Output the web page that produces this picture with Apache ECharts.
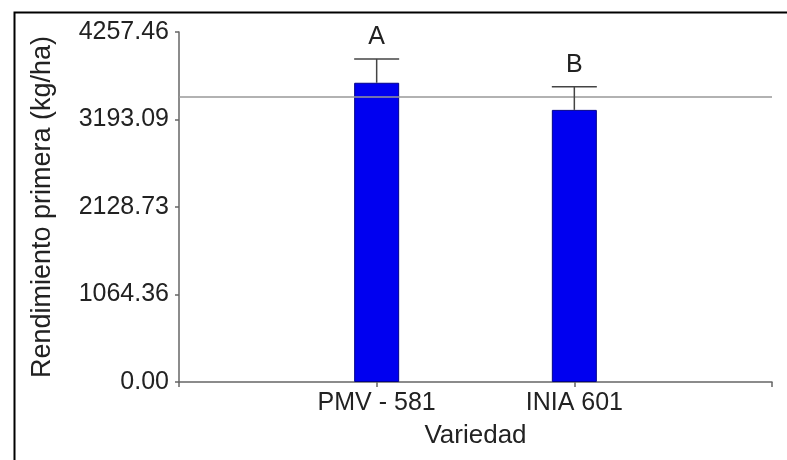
<!DOCTYPE html>
<html>
<head>
<meta charset="utf-8">
<script src="https://cdn.jsdelivr.net/npm/echarts@6/dist/echarts.min.js"></script>
<style>html,body{margin:0;padding:0;background:#fff}#c{width:787px;height:460px}</style>
</head>
<body>
<div id="c"></div>
<script>
var categories = ['PMV - 581', 'INIA 601'];
var means = [3640, 3310];
var errorTops = [3930, 3590];
var letters = ['A', 'B'];
var yTickLabels = ['0.00', '1064.36', '2128.73', '3193.09', '4257.46'];
var yMax = 4257.46;
var yStep = 1064.365;
var overallMean = 3475;

var FONT = '"Liberation Sans", Arial, sans-serif';
var chart = echarts.init(document.getElementById('c'), null, {renderer: 'canvas'});

var barData = categories.map(function (c, i) { return [i + 1, means[i]]; });
var errData = categories.map(function (c, i) { return [i + 1, means[i], errorTops[i]]; });

chart.setOption({
  animation: false,
  backgroundColor: '#fff',
  graphic: [{
    type: 'rect', left: 12, top: 10, z: 100,
    shape: {width: 820, height: 520},
    style: {fill: 'none', stroke: '#000', lineWidth: 2}
  }],
  grid: {left: 179, right: 15, top: 32, bottom: 78},
  xAxis: {
    type: 'value', min: 0, max: 3, interval: 1,
    name: 'Variedad', nameLocation: 'middle', nameGap: 41,
    nameTextStyle: {fontFamily: FONT, fontSize: 26, color: '#222'},
    axisLine: {lineStyle: {color: '#666', width: 1.5}},
    axisTick: {show: true, length: 5, lineStyle: {color: '#666', width: 1.5}},
    splitLine: {show: false},
    axisLabel: {
      margin: 9, fontFamily: FONT, fontSize: 25, color: '#222',
      formatter: function (v) { return categories[v - 1] || ''; }
    }
  },
  yAxis: {
    type: 'value', min: 0, max: yMax, interval: yStep,
    name: 'Rendimiento primera (kg/ha)', nameLocation: 'middle', nameGap: 123,
    nameTextStyle: {fontFamily: FONT, fontSize: 27, color: '#222'},
    axisLine: {show: true, lineStyle: {color: '#666', width: 1.5}},
    axisTick: {show: true, length: 4, lineStyle: {color: '#666', width: 1.5}},
    splitLine: {show: false},
    axisLabel: {
      margin: 10, fontFamily: FONT, fontSize: 25, color: '#222',
      formatter: function (v) { return yTickLabels[Math.round(v / yStep)]; }
    }
  },
  series: [{
    type: 'bar', data: barData, barWidth: 45,
    itemStyle: {color: '#0000f0', borderColor: '#00008a', borderWidth: 1},
    markLine: {
      silent: true, symbol: 'none', label: {show: false},
      lineStyle: {color: '#999', width: 1.5, type: 'solid'},
      data: [{yAxis: overallMean}]
    }
  }, {
    type: 'custom', data: errData, z: 5,
    renderItem: function (params, api) {
      var x = api.value(0);
      var base = api.coord([x, api.value(1)]);
      var top = api.coord([x, api.value(2)]);
      var half = 22.5;
      return {
        type: 'group',
        children: [
          {type: 'line', shape: {x1: base[0], y1: base[1], x2: top[0], y2: top[1]}, style: {stroke: '#444', lineWidth: 1.5}},
          {type: 'line', shape: {x1: base[0] - half, y1: top[1], x2: base[0] + half, y2: top[1]}, style: {stroke: '#444', lineWidth: 1.5}},
          {type: 'text', x: base[0], y: top[1] - 9, style: {text: letters[params.dataIndex], fontFamily: FONT, fontSize: 25, fill: '#222', align: 'center', verticalAlign: 'bottom'}}
        ]
      };
    }
  }]
});
</script>
</body>
</html>
